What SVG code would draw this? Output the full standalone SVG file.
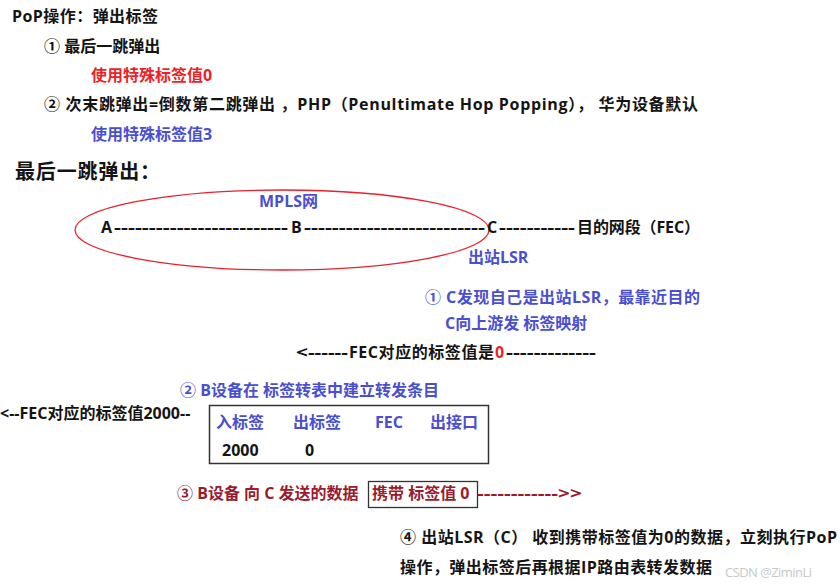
<svg xmlns="http://www.w3.org/2000/svg" width="840" height="588" viewBox="0 0 840 588">
<style>
text{font-family:"Open Sans","Noto Sans CJK SC",sans-serif;font-weight:bold;font-size:16px;fill:#141414}
.blue{fill:#4a4fd2}
.red{fill:#ee1f27}
.dred{fill:#9a1b2d}
.h{font-size:20px}
.wm{font-weight:normal;font-size:13px;fill:#c8c8c8}
</style>
<rect width="840" height="588" fill="#ffffff"/>
<g id="intro">
<text x="12" y="22" textLength="146" lengthAdjust="spacing">PoP操作：弹出标签</text>
<text x="44" y="52">① 最后一跳弹出</text>
<text x="91" y="81" class="red">使用特殊标签值0</text>
<text x="44" y="110" textLength="654" lengthAdjust="spacing">② 次末跳弹出=倒数第二跳弹出 ，PHP（Penultimate Hop Popping）， 华为设备默认</text>
<text x="91" y="140" class="blue">使用特殊标签值3</text>
<text x="15" y="179" class="h" textLength="145" lengthAdjust="spacing">最后一跳弹出：</text>
</g>
<g id="mpls">
<ellipse cx="282" cy="230" rx="207" ry="40" fill="none" stroke="#e8222a" stroke-width="1.3"/>
<text x="259" y="207" class="blue">MPLS网</text>
<text x="468" y="263" class="blue">出站LSR</text>
</g>
<g id="connectors">
<text x="114" y="233" textLength="174" lengthAdjust="spacingAndGlyphs">-------------------------</text>
<text x="304" y="233" textLength="181" lengthAdjust="spacingAndGlyphs">--------------------------</text>
<text x="499" y="233" textLength="76" lengthAdjust="spacingAndGlyphs">-----------</text>
</g>
<g id="nodeA"><text x="101" y="233">A</text></g>
<g id="nodeB"><text x="291" y="233">B</text></g>
<g id="nodeC"><text x="487" y="233">C</text></g>
<g id="fec"><text x="577" y="233" textLength="123" lengthAdjust="spacing">目的网段（FEC）</text></g>
<g id="step1">
<text x="425" y="303" class="blue" textLength="275" lengthAdjust="spacing">① C发现自己是出站LSR，最靠近目的</text>
<text x="445" y="329" class="blue">C向上游发 标签映射</text>
<text x="296" y="358" textLength="52" lengthAdjust="spacingAndGlyphs">&lt;------</text>
<text x="349" y="358" textLength="145" lengthAdjust="spacing">FEC对应的标签值是</text>
<text x="495" y="358" class="red">0</text>
<text x="506" y="358" textLength="90" lengthAdjust="spacingAndGlyphs">-------------</text>
</g>
<g id="step2">
<text x="180" y="396" class="blue">② B设备在 标签转表中建立转发条目</text>
<text x="0" y="419">&lt;--FEC对应的标签值2000--</text>
<rect x="209.5" y="405.5" width="279" height="58" fill="none" stroke="#333" stroke-width="1.5"/>
<text x="216" y="428" class="blue">入标签</text>
<text x="293" y="428" class="blue">出标签</text>
<text x="375" y="428" class="blue">FEC</text>
<text x="430" y="428" class="blue">出接口</text>
<text x="222" y="456">2000</text>
<text x="305" y="456">0</text>
</g>
<g id="step3">
<text x="177" y="499" class="dred">③ B设备 向 C 发送的数据</text>
<rect x="368.5" y="481.5" width="109" height="26" fill="none" stroke="#333" stroke-width="1.3"/>
<text x="372" y="499" class="dred">携带 标签值 0</text>
<text x="477" y="499" class="dred" textLength="105" lengthAdjust="spacingAndGlyphs">------------&gt;&gt;</text>
</g>
<g id="step4">
<text x="400" y="543" textLength="437" lengthAdjust="spacing">④ 出站LSR（C） 收到携带标签值为0的数据，立刻执行PoP</text>
<text x="400" y="573" textLength="312" lengthAdjust="spacing">操作，弹出标签后再根据IP路由表转发数据</text>
<text x="725" y="577" class="wm" textLength="87" lengthAdjust="spacing">CSDN @ZiminLi</text>
</g>
</svg>
